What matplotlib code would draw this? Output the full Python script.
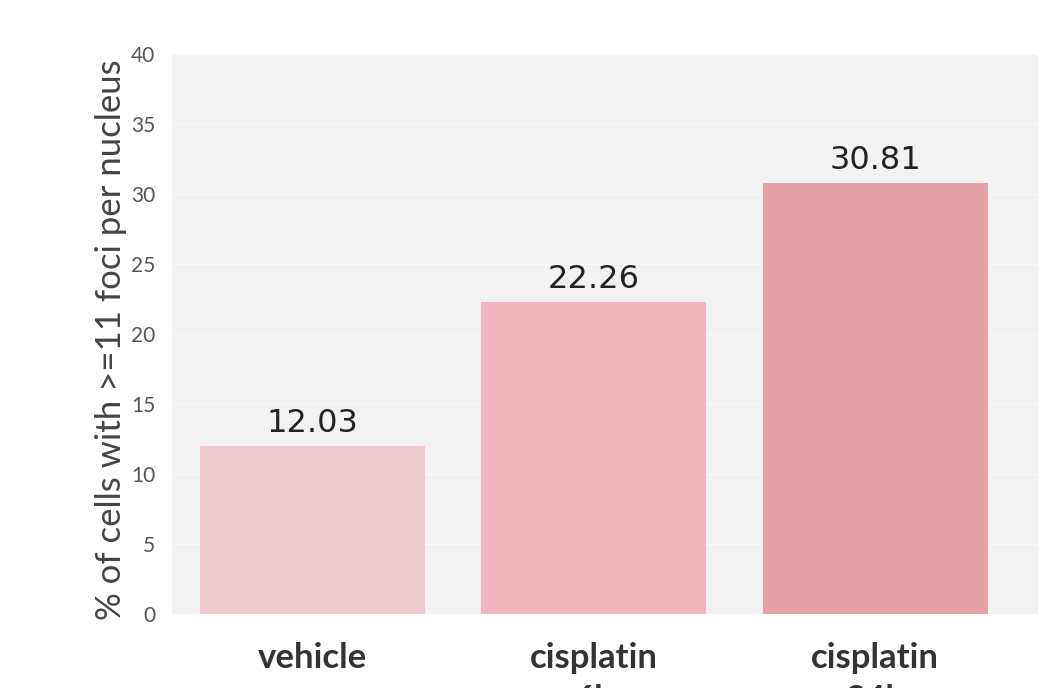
import numpy as np
import matplotlib.pyplot as plt

groups = ['vehicle', 'cisplatin\n6h', 'cisplatin\n24h']
pct_foci = [12.03, 22.26, 30.81]
bar_colors = ['#f0cbd0', '#f3b5c0', '#e5a3a9']
yticks = [0, 5, 10, 15, 20, 25, 30, 35, 40]

plt.rcParams['font.family'] = ['Lato', 'DejaVu Sans']

fig = plt.figure(figsize=(10.52, 6.88), dpi=100)
ax = fig.add_axes([0.1635, 0.1076, 0.8235, 0.814])
ax.set_facecolor('#f2f2f2')

x = np.arange(len(groups))
bars = ax.bar(x, pct_foci, width=0.8, color=bar_colors, zorder=2)

for xi, v in zip(x, pct_foci):
    ax.text(xi, v + 0.5, f'{v:.2f}', ha='center', va='bottom',
            fontsize=23, color='#222222', family='DejaVu Sans')

ax.set_xlim(-0.5, 2.58)
ax.set_ylim(0, 40)
ax.set_yticks(yticks)
ax.set_yticklabels([str(t) for t in yticks], fontsize=15, color='#555555')
ax.set_xticks(x)
ax.set_xticklabels(groups, fontsize=25, fontweight='bold', color='#333333',
                   linespacing=1.4)
ax.tick_params(axis='both', length=0)
ax.tick_params(axis='y', pad=12)
ax.tick_params(axis='x', pad=20)
ax.yaxis.grid(True, color='white', linewidth=1, alpha=0.6, zorder=0)
ax.set_axisbelow(True)
for s in ax.spines.values():
    s.set_visible(False)

ax.set_ylabel('% of cells with >=11 foci per nucleus', fontsize=25,
              color='#444444')
ax.yaxis.set_label_coords(-0.052, 0.49)

fig.savefig('out.png', dpi=100)
